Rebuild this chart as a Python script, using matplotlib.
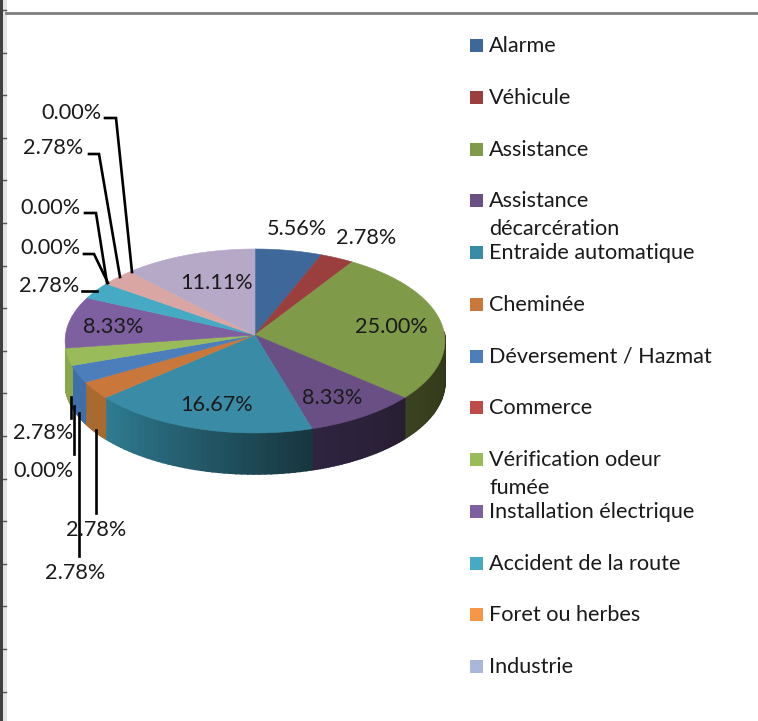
#!/usr/bin/env python
import numpy as np
import matplotlib
matplotlib.use("Agg")
from matplotlib import pyplot as plt
from matplotlib.patches import Polygon, Rectangle

plt.rcParams["font.family"] = ["Lato", "DejaVu Sans"]

# slices clockwise from 12 o'clock, percent labels as printed on the chart
slice_values = [5.56, 2.78, 25.00, 8.33, 16.67, 2.78, 2.78, 0.00, 2.78, 8.33, 2.78, 0.00, 0.00, 2.78, 0.00, 11.11]
top_colors = ["#3D6899", "#9B3F3E", "#7F9A48", "#6A4F84", "#3A8CA6", "#C9773A", "#4B7EBB", "#BE4B48",
              "#9ABB59", "#7E5F9F", "#46AAC5", "#F79646", "#A9B8DA", "#D9A6A4", "#8C8C8C", "#B6A9C8"]
side_left = ["#263F5C", "#5E2625", "#3A4220", "#2F2440", "#2F7C92", "#A86A2E", "#3F6FA8", "#8C3432",
             "#89A74C", "#5C4575", "#2F7C92", "#A86A2E", "#7A86A0", "#9C7675", "#666666", "#84798F"]
side_right = ["#263F5C", "#5E2625", "#2E3518", "#281E33", "#17363F", "#A86A2E", "#3F6FA8", "#8C3432",
              "#89A74C", "#5C4575", "#2F7C92", "#A86A2E", "#7A86A0", "#9C7675", "#666666", "#84798F"]

legend_names = ["Alarme", "Véhicule", "Assistance", "Assistance\ndécarcération", "Entraide automatique",
                "Cheminée", "Déversement / Hazmat", "Commerce", "Vérification odeur\nfumée",
                "Installation électrique", "Accident de la route", "Foret ou herbes", "Industrie"]
legend_colors = ["#3D6899", "#9B3F3E", "#7F9A48", "#6A4F84", "#3A8CA6", "#C9773A", "#4B7EBB", "#BE4B48",
                 "#9ABB59", "#7E5F9F", "#46AAC5", "#F79646", "#A9B8DA"]

# pie geometry in pixels
cx, cy = 255, 335
rx, ry = 189.5, 91.6
persp = 0.065
depth = 41
font_size = 15.6
wall_from, wall_to = 88, 261.5

fig = plt.figure(figsize=(7.58, 7.21), dpi=100)
ax = fig.add_axes([0, 0, 1, 1])
ax.set_xlim(0, 758)
ax.set_ylim(721, 0)
ax.axis("off")


def rim(theta):
    # theta in degrees clockwise from the top, perspective squashed circle
    t = np.radians(theta)
    x, y = np.sin(t), -np.cos(t)
    w = 1 - persp * y
    return cx + rx * x / w, cy + ry * y / w


def hex_mix(c1, c2, f):
    a = np.array(matplotlib.colors.to_rgb(c1))
    b = np.array(matplotlib.colors.to_rgb(c2))
    return a + (b - a) * f


edges = np.concatenate([[0], np.cumsum(slice_values)]) / sum(slice_values) * 360

# outer wall, only the part facing the viewer
for i in range(len(slice_values)):
    a, b = max(edges[i], wall_from), min(edges[i + 1], wall_to)
    if slice_values[i] == 0 or a >= b:
        continue
    th = np.linspace(a, b, 40)
    for j in range(len(th) - 1):
        x0, y0 = rim(th[j])
        x1, y1 = rim(th[j + 1])
        # teal wall runs dark on the right, lighter on the left
        col = hex_mix(side_right[i], side_left[i], j / (len(th) - 2))
        ax.add_patch(Polygon([[x0, y0], [x1, y1], [x1, y1 + depth], [x0, y0 + depth]],
                             closed=True, fc=col, ec=col, lw=1.2))

# top faces
for i in range(len(slice_values)):
    if slice_values[i] == 0:
        continue
    th = np.linspace(edges[i], edges[i + 1], 80)
    x, y = rim(th)
    pts = np.column_stack([np.r_[cx, x], np.r_[cy, y]])
    ax.add_patch(Polygon(pts, closed=True, fc=top_colors[i], ec=top_colors[i], lw=0.4))

# labels sitting on or next to the slices
inner_labels = [("5.56%", 297, 229), ("2.78%", 366, 238), ("25.00%", 391, 327), ("8.33%", 332, 398),
                ("16.67%", 216, 405), ("8.33%", 113, 327), ("11.11%", 216, 283)]
for txt, x, y in inner_labels:
    ax.text(x, y, txt, fontsize=font_size, color="#1a1a1a", ha="center", va="center")

# labels with leader lines, each leader is label end, elbow, then slice
leader_labels = [
    ("0.00%", 71, 113, [(105, 118), (116, 118), (132, 272)]),
    ("2.78%", 53, 148, [(89, 154), (99, 154), (120, 277)]),
    ("0.00%", 50, 208, [(85, 213), (96, 213), (107, 283)]),
    ("0.00%", 50, 248, [(84, 254), (94, 254), (108, 283)]),
    ("2.78%", 49, 286, [(82, 291), (97, 291)]),
    ("2.78%", 43, 433, [(71, 397), (71, 418)]),
    ("0.00%", 43, 471, [(74, 406), (74, 454)]),
    ("2.78%", 96, 530, [(96, 430), (96, 513)]),
    ("2.78%", 75, 573, [(79, 413), (79, 556)]),
]
for txt, x, y, pts in leader_labels:
    ax.text(x, y, txt, fontsize=font_size, color="#1a1a1a", ha="center", va="center")
    ax.plot([p[0] for p in pts], [p[1] for p in pts], color="black", lw=1.9, solid_joinstyle="miter")

# legend
for i, name in enumerate(legend_names):
    y = 45.5 + i * 51.75
    ax.add_patch(Rectangle((470, y - 6.5), 13, 13, fc=legend_colors[i], ec="none"))
    ax.text(489, y - 9.5, name, fontsize=font_size, color="#1a1a1a", ha="left", va="top", linespacing=1.5)

# window frame around the pasted chart
ax.plot([6, 758], [13, 13], color="#808080", lw=2)
ax.add_patch(Rectangle((0, 0), 3, 721, fc="#404040", ec="none"))
ax.add_patch(Rectangle((3, 0), 3.5, 721, fc="#e4e4e4", ec="none"))
for y in np.arange(10, 721, 42.6):
    ax.plot([3, 6], [y, y], color="#555555", lw=1)

fig.savefig("out.png", dpi=100)
